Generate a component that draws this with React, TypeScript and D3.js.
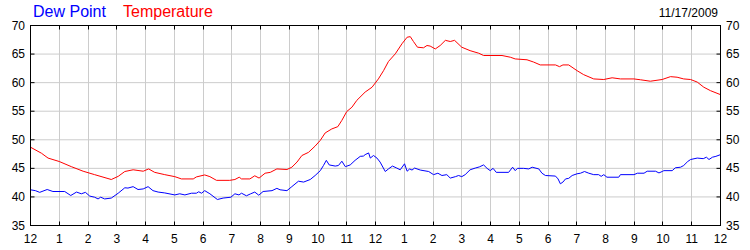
import React from "react";
import * as d3 from "d3";

const hourLabels = ["12","1","2","3","4","5","6","7","8","9","10","11","12","1","2","3","4","5","6","7","8","9","10","11","12"];
const yTicks = [35, 40, 45, 50, 55, 60, 65, 70];
const dateLabel = "11/17/2009";
const seriesNames = ["Dew Point", "Temperature"];

const tempHours = [0,0.38,0.61,1.0,1.42,1.83,2.23,2.81,3.05,3.28,3.57,3.92,4.11,4.32,4.67,5.02,5.25,5.66,5.77,6.06,6.24,6.47,6.93,7.11,7.26,7.34,7.63,7.8,7.95,8.16,8.34,8.57,8.92,9.09,9.27,9.44,9.67,9.9,10.08,10.25,10.48,10.69,10.83,11.0,11.18,11.35,11.64,11.88,12.1,12.28,12.45,12.69,12.92,13.1,13.21,13.32,13.46,13.67,13.79,13.9,14.08,14.25,14.43,14.6,14.75,15.0,15.29,15.59,15.76,16.4,16.69,16.86,17.27,17.5,17.73,18.26,18.4,18.52,18.72,19.01,19.24,19.59,19.94,20.23,20.52,20.99,21.22,21.56,21.97,22.26,22.49,22.72,22.96,23.19,23.42,23.65,24];
const tempValues = [48.7,47.65,46.8,46.2,45.3,44.5,43.9,43.05,43.6,44.45,44.75,44.5,44.9,44.3,43.9,43.55,43.15,43.15,43.5,43.85,43.55,42.9,42.9,43.05,43.45,43.15,43.15,43.7,43.3,44.15,44.3,44.9,44.8,45.2,46.1,47.25,47.8,48.9,49.9,51.2,51.9,52.3,53.4,54.95,55.7,56.9,58.35,59.2,60.65,62.1,63.7,65.05,66.8,67.95,68.05,67.2,66.2,66.1,66.5,66.4,65.9,66.5,67.4,67.2,67.4,66.2,65.6,65.15,64.75,64.75,64.45,64.15,64.0,63.6,63.1,63.1,62.8,63.1,63.1,62.1,61.4,60.65,60.55,60.85,60.65,60.65,60.5,60.25,60.55,61.05,60.95,60.65,60.55,60.1,59.2,58.6,57.9];

const dewHours = [0,0.17,0.32,0.58,0.78,1.19,1.4,1.6,1.77,1.91,2.06,2.23,2.35,2.44,2.58,2.81,3.05,3.28,3.39,3.57,3.74,3.92,4.09,4.26,4.44,4.67,5.02,5.19,5.37,5.6,5.77,5.85,5.95,6.06,6.24,6.5,6.7,6.97,7.11,7.25,7.34,7.51,7.66,7.8,7.94,8.09,8.4,8.57,8.68,8.92,9.09,9.32,9.5,9.73,9.9,10.08,10.19,10.29,10.39,10.6,10.71,10.83,10.95,11.12,11.29,11.47,11.58,11.64,11.76,11.82,11.93,12.05,12.16,12.34,12.45,12.59,12.74,12.86,13.01,13.1,13.19,13.27,13.36,13.56,13.85,14.02,14.17,14.31,14.48,14.6,14.78,14.89,15.0,15.12,15.29,15.47,15.61,15.76,15.88,15.99,16.09,16.2,16.63,16.77,16.86,16.94,17.15,17.33,17.45,17.68,17.79,17.91,18.26,18.35,18.43,18.52,18.61,18.72,18.84,19.01,19.13,19.27,19.42,19.59,19.76,19.85,19.94,20.05,20.46,20.52,20.99,21.11,21.34,21.45,21.74,21.86,21.97,22.03,22.32,22.43,22.61,22.72,22.86,22.96,23.19,23.4,23.51,23.6,23.72,23.84,24];
const dewValues = [41.25,41.1,40.8,41.3,40.95,40.95,40.25,40.85,40.55,40.8,40.15,39.95,39.65,39.95,39.65,39.8,40.65,41.6,41.55,41.8,41.3,41.4,41.8,41.1,40.85,40.7,40.35,40.55,40.35,40.65,40.65,40.9,40.65,41.1,40.55,39.55,39.8,39.95,40.55,40.35,40.65,40.2,40.55,40.85,40.3,40.95,41.1,41.5,41.25,41.1,41.8,42.75,42.6,43.05,43.75,44.6,45.5,46.4,45.6,45.4,45.5,46.25,45.3,45.6,46.4,47.1,47.15,47.4,47.7,46.8,47.25,46.8,46.1,44.45,44.9,45.4,45.05,44.75,45.8,44.5,44.9,44.7,45.05,44.7,44.45,43.9,44.15,43.75,43.9,43.3,43.55,43.75,43.55,43.9,44.75,45.05,45.25,45.6,45.0,44.6,45.0,44.3,44.3,45.2,44.6,45.0,45.0,44.9,45.2,44.9,44.15,43.75,43.65,43.15,42.3,42.6,43.15,43.25,43.75,44.05,44.15,44.45,44.15,43.9,43.9,43.6,43.9,43.45,43.45,43.9,43.9,44.15,44.15,44.5,44.5,44.2,44.45,44.6,44.6,45.1,45.2,45.5,46.2,46.55,46.8,46.7,46.95,46.55,46.95,47.1,47.4];

const W = 750;
const H = 250;
const FONT = "'Liberation Sans', Arial, sans-serif";

export default function App() {
  const x = d3.scaleLinear().domain([0, 24]).range([30.5, 720.5]);
  const y = d3.scaleLinear().domain([35, 70]).range([225.5, 25.5]);
  const line = d3
    .line<[number, number]>()
    .x((d) => x(d[0]))
    .y((d) => y(d[1]));
  const temp: [number, number][] = tempHours.map((h, i) => [h, tempValues[i]]);
  const dew: [number, number][] = dewHours.map((h, i) => [h, dewValues[i]]);
  const hours = d3.range(0, 25);
  const snap = (v: number) => Math.round(v - 0.5) + 0.5;

  return (
    <svg
      width={W}
      height={H}
      style={{ position: "absolute", left: 0, top: 0, background: "#fff" }}
      fontFamily={FONT}
    >
      <rect x={0} y={0} width={W} height={H} fill="#fff" />
      {/* grid */}
      {hours.slice(1, -1).map((h) => (
        <line key={"gv" + h} x1={snap(x(h))} x2={snap(x(h))} y1={y(70)} y2={y(35)} stroke="#cccccc" strokeWidth={1} />
      ))}
      {yTicks.slice(1, -1).map((t) => (
        <line key={"gh" + t} x1={x(0)} x2={x(24)} y1={y(t)} y2={y(t)} stroke="#cccccc" strokeWidth={1} />
      ))}
      {/* ticks inside */}
      {hours.slice(1, -1).map((h) => (
        <g key={"tv" + h} stroke="#000" strokeWidth={1}>
          <line x1={snap(x(h))} x2={snap(x(h))} y1={y(35)} y2={y(35) - 4} />
          <line x1={snap(x(h))} x2={snap(x(h))} y1={y(70)} y2={y(70) + 4} />
        </g>
      ))}
      {yTicks.slice(1, -1).map((t) => (
        <g key={"th" + t} stroke="#000" strokeWidth={1}>
          <line x1={x(0)} x2={x(0) + 4} y1={y(t)} y2={y(t)} />
          <line x1={x(24)} x2={x(24) - 4} y1={y(t)} y2={y(t)} />
        </g>
      ))}
      {/* series */}
      <path d={line(dew) || ""} fill="none" stroke="#0000ff" strokeWidth={1} />
      <path d={line(temp) || ""} fill="none" stroke="#ff0000" strokeWidth={1} />
      {/* frame */}
      <rect x={x(0)} y={y(70)} width={x(24) - x(0)} height={y(35) - y(70)} fill="none" stroke="#000" strokeWidth={1} />
      {/* y labels */}
      {yTicks.map((t) => (
        <g key={"yl" + t} fontSize={12} fill="#000">
          <text x={25} y={y(t) + 4} textAnchor="end">{t}</text>
          <text x={726} y={y(t) + 4} textAnchor="start">{t}</text>
        </g>
      ))}
      {/* x labels */}
      {hourLabels.map((l, i) => (
        <text key={"xl" + i} x={x(hours[i])} y={243} fontSize={12} textAnchor="middle" fill="#000">
          {l}
        </text>
      ))}
      {/* legend */}
      <text x={33} y={17} fontSize={16} fill="#0000ff">{seriesNames[0]}</text>
      <text x={123} y={17} fontSize={16} fill="#ff0000">{seriesNames[1]}</text>
      <text x={718} y={17} fontSize={12} textAnchor="end" fill="#000">{dateLabel}</text>
    </svg>
  );
}
